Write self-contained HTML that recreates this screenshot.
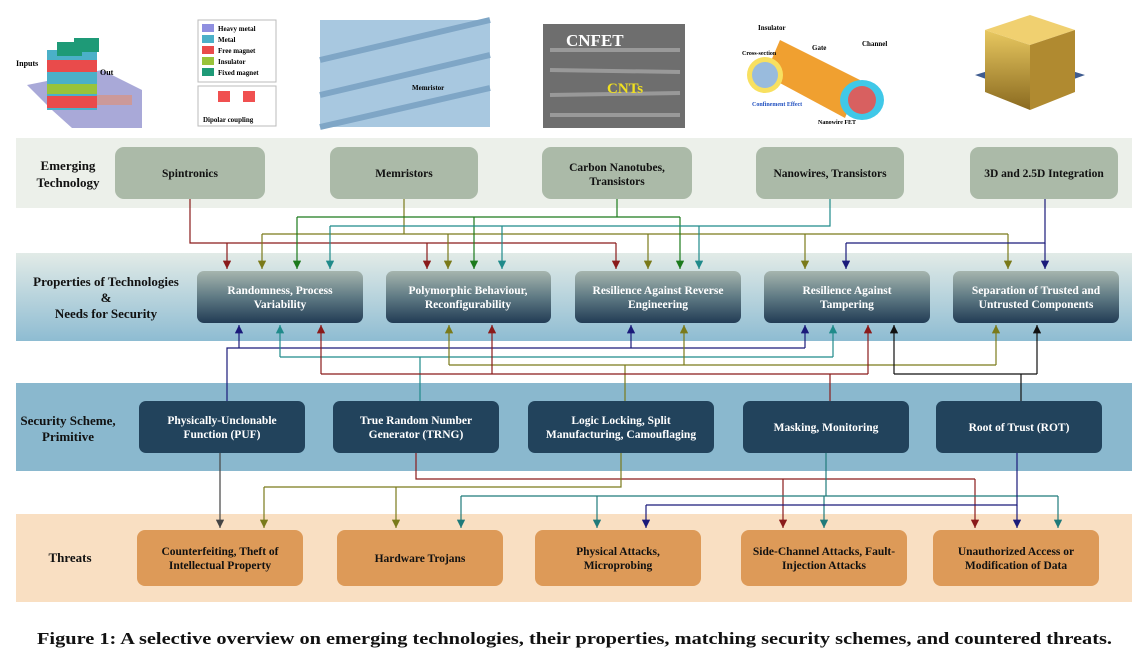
<!DOCTYPE html>
<html><head><meta charset="utf-8"><style>
html,body{margin:0;padding:0;background:#fff;}
svg{display:block;}
text{font-family:"Liberation Serif",serif;font-weight:bold;}
</style></head><body>
<svg width="1148" height="662" viewBox="0 0 1148 662" xmlns="http://www.w3.org/2000/svg">
<defs>
<linearGradient id="b2" x1="0" y1="0" x2="0" y2="1"><stop offset="0" stop-color="#e2ebe7"/><stop offset="1" stop-color="#8ebcd2"/></linearGradient>
<linearGradient id="bx2" x1="0" y1="0" x2="0" y2="1"><stop offset="0" stop-color="#a6b5ae"/><stop offset="0.5" stop-color="#5f7a84"/><stop offset="1" stop-color="#223c55"/></linearGradient>
<linearGradient id="cube" x1="0" y1="0" x2="0" y2="1"><stop offset="0" stop-color="#e8c860"/><stop offset="1" stop-color="#8a6a20"/></linearGradient>
<marker id="a" viewBox="0 0 10 10" refX="10" refY="5" markerWidth="7" markerHeight="7" orient="auto"><path d="M0,0 L10,5 L0,10 z" fill="context-stroke"/></marker>
</defs>

<!-- top images -->
<g transform="translate(12,0)">
<polygon points="15,85 40,110 60,128 130,128 130,90 90,70" fill="#a9a9d8"/>
<rect x="40" y="95" width="80" height="10" fill="#c99"/>
<polygon points="35,50 85,50 85,110 35,110" fill="#4bb0c8"/>
<rect x="35" y="60" width="50" height="12" fill="#e94b4b"/>
<rect x="35" y="84" width="50" height="10" fill="#99c33a"/>
<rect x="35" y="96" width="50" height="12" fill="#e94b4b"/>
<rect x="45" y="42" width="25" height="14" fill="#1e9a77"/>
<rect x="62" y="38" width="25" height="14" fill="#1e9a77"/>
<text x="4" y="66" font-size="8" font-weight="normal">Inputs</text>
<text x="88" y="75" font-size="8" font-weight="normal">Out</text>
</g>
<g>
<rect x="198" y="20" width="78" height="62" fill="#fff" stroke="#bbb"/>
<rect x="202" y="24" width="12" height="8" fill="#8f8fe0"/><text x="218" y="31" font-size="7" font-weight="normal">Heavy metal</text>
<rect x="202" y="35" width="12" height="8" fill="#4bb0c8"/><text x="218" y="42" font-size="7" font-weight="normal">Metal</text>
<rect x="202" y="46" width="12" height="8" fill="#e94b4b"/><text x="218" y="53" font-size="7" font-weight="normal">Free magnet</text>
<rect x="202" y="57" width="12" height="8" fill="#99c33a"/><text x="218" y="64" font-size="7" font-weight="normal">Insulator</text>
<rect x="202" y="68" width="12" height="8" fill="#1e9a77"/><text x="218" y="75" font-size="7" font-weight="normal">Fixed magnet</text>
<rect x="198" y="86" width="78" height="40" fill="#fff" stroke="#bbb"/>
<rect x="218" y="91" width="12" height="11" fill="#f05050"/><rect x="243" y="91" width="12" height="11" fill="#f05050"/>
<text x="203" y="122" font-size="7" font-weight="normal">Dipolar coupling</text>
<rect x="320" y="20" width="170" height="107" fill="#a8c8e0"/>
<g stroke="#7fa6c6" stroke-width="6"><line x1="320" y1="60" x2="490" y2="20"/><line x1="320" y1="95" x2="490" y2="55"/><line x1="320" y1="127" x2="490" y2="88"/></g>
<text x="412" y="90" font-size="7" font-weight="normal">Memristor</text>
<rect x="543" y="24" width="142" height="104" fill="#6e6e6e"/>
<g stroke="#999" stroke-width="4"><line x1="550" y1="50" x2="680" y2="50"/><line x1="550" y1="70" x2="680" y2="72"/><line x1="550" y1="95" x2="680" y2="93"/><line x1="550" y1="115" x2="680" y2="115"/></g>
<text x="566" y="46" font-size="17" fill="#fff" font-family="Liberation Sans">CNFET</text>
<text x="607" y="93" font-size="15" fill="#f0e020" font-family="Liberation Sans">CNTs</text>
<polygon points="780,40 860,80 845,118 765,75" fill="#f0a030"/>
<ellipse cx="862" cy="100" rx="22" ry="20" fill="#40c8e8"/>
<ellipse cx="862" cy="100" rx="14" ry="14" fill="#d86060"/>
<circle cx="765" cy="75" r="18" fill="#f8e060"/><circle cx="765" cy="75" r="13" fill="#9bd"/>
<text x="758" y="30" font-size="7" font-family="Liberation Sans">Insulator</text>
<text x="812" y="50" font-size="7" font-family="Liberation Sans">Gate</text>
<text x="862" y="46" font-size="7" font-family="Liberation Sans">Channel</text>
<text x="742" y="55" font-size="6" font-family="Liberation Sans">Cross-section</text>
<text x="752" y="106" font-size="6" fill="#2050c0" font-family="Liberation Sans">Confinement Effect</text>
<text x="818" y="124" font-size="6" font-family="Liberation Sans">Nanowire FET</text>
<polygon points="975,75 1030,95 1085,75 1030,58" fill="#3f5c90"/>
<polygon points="985,30 1030,45 1075,30 1030,15" fill="#f0d070"/>
<polygon points="985,30 1030,45 1030,110 985,92" fill="url(#cube)"/>
<polygon points="1030,45 1075,30 1075,92 1030,110" fill="#b08a30"/>
</g>

<!-- bands -->
<rect x="16" y="138" width="1116" height="70" fill="#ecf0ea"/>
<rect x="16" y="253" width="1116" height="88" fill="url(#b2)"/>
<rect x="16" y="383" width="1116" height="88" fill="#8ab8ce"/>
<rect x="16" y="514" width="1116" height="88" fill="#f9dfc2"/>

<g font-size="13" text-anchor="middle" fill="#111">
<text x="68" y="170">Emerging</text><text x="68" y="187">Technology</text>
<text x="106" y="286">Properties of Technologies</text><text x="106" y="302">&amp;</text><text x="106" y="318">Needs for Security</text>
<text x="68" y="425">Security Scheme,</text><text x="68" y="441">Primitive</text>
<text x="70" y="562">Threats</text>
</g>

<!-- row1 boxes -->
<g fill="#abbaa8">
<rect x="115" y="147" width="150" height="52" rx="9"/>
<rect x="330" y="147" width="148" height="52" rx="9"/>
<rect x="542" y="147" width="150" height="52" rx="9"/>
<rect x="756" y="147" width="148" height="52" rx="9"/>
<rect x="970" y="147" width="148" height="52" rx="9"/>
</g>
<g font-size="11.5" text-anchor="middle" fill="#111">
<text x="190" y="177">Spintronics</text>
<text x="404" y="177">Memristors</text>
<text x="617" y="171">Carbon Nanotubes,</text><text x="617" y="185">Transistors</text>
<text x="830" y="177">Nanowires, Transistors</text>
<text x="1044" y="177">3D and 2.5D Integration</text>
</g>

<!-- row2 boxes -->
<g fill="url(#bx2)">
<rect x="197" y="271" width="166" height="52" rx="7"/>
<rect x="386" y="271" width="165" height="52" rx="7"/>
<rect x="575" y="271" width="166" height="52" rx="7"/>
<rect x="764" y="271" width="166" height="52" rx="7"/>
<rect x="953" y="271" width="166" height="52" rx="7"/>
</g>
<g font-size="11.5" text-anchor="middle" fill="#fff">
<text x="280" y="294">Randomness, Process</text><text x="280" y="308">Variability</text>
<text x="468" y="294">Polymorphic Behaviour,</text><text x="468" y="308">Reconfigurability</text>
<text x="658" y="294">Resilience Against Reverse</text><text x="658" y="308">Engineering</text>
<text x="847" y="294">Resilience Against</text><text x="847" y="308">Tampering</text>
<text x="1036" y="294">Separation of Trusted and</text><text x="1036" y="308">Untrusted Components</text>
</g>

<!-- row3 boxes -->
<g fill="#22435c">
<rect x="139" y="401" width="166" height="52" rx="7"/>
<rect x="333" y="401" width="166" height="52" rx="7"/>
<rect x="528" y="401" width="186" height="52" rx="7"/>
<rect x="743" y="401" width="166" height="52" rx="7"/>
<rect x="936" y="401" width="166" height="52" rx="7"/>
</g>
<g font-size="11.5" text-anchor="middle" fill="#fff">
<text x="222" y="424">Physically-Unclonable</text><text x="222" y="438">Function (PUF)</text>
<text x="416" y="424">True Random Number</text><text x="416" y="438">Generator (TRNG)</text>
<text x="621" y="424">Logic Locking, Split</text><text x="621" y="438">Manufacturing, Camouflaging</text>
<text x="826" y="431">Masking, Monitoring</text>
<text x="1019" y="431">Root of Trust (ROT)</text>
</g>

<!-- row4 boxes -->
<g fill="#dd9a58">
<rect x="137" y="530" width="166" height="56" rx="8"/>
<rect x="337" y="530" width="166" height="56" rx="8"/>
<rect x="535" y="530" width="166" height="56" rx="8"/>
<rect x="741" y="530" width="166" height="56" rx="8"/>
<rect x="933" y="530" width="166" height="56" rx="8"/>
</g>
<g font-size="11.5" text-anchor="middle" fill="#111">
<text x="220" y="555">Counterfeiting, Theft of</text><text x="220" y="569">Intellectual Property</text>
<text x="420" y="562">Hardware Trojans</text>
<text x="618" y="555">Physical Attacks,</text><text x="618" y="569">Microprobing</text>
<text x="824" y="555">Side-Channel Attacks, Fault-</text><text x="824" y="569">Injection Attacks</text>
<text x="1016" y="555">Unauthorized Access or</text><text x="1016" y="569">Modification of Data</text>
</g>

<!-- connectors row1 -> row2 -->
<g fill="none" stroke-width="1.2">
<g stroke="#8a1a1a"><polyline points="190,199 190,243 616,243"/><line x1="227" y1="243" x2="227" y2="269" marker-end="url(#a)"/><line x1="427" y1="243" x2="427" y2="269" marker-end="url(#a)"/><line x1="616" y1="243" x2="616" y2="269" marker-end="url(#a)"/></g>
<g stroke="#7a7a1a"><polyline points="404,199 404,234"/><line x1="262" y1="234" x2="1008" y2="234"/><line x1="262" y1="234" x2="262" y2="269" marker-end="url(#a)"/><line x1="448" y1="234" x2="448" y2="269" marker-end="url(#a)"/><line x1="648" y1="234" x2="648" y2="269" marker-end="url(#a)"/><line x1="805" y1="234" x2="805" y2="269" marker-end="url(#a)"/><line x1="1008" y1="234" x2="1008" y2="269" marker-end="url(#a)"/></g>
<g stroke="#1c7a1c"><polyline points="617,199 617,217"/><line x1="297" y1="217" x2="680" y2="217"/><line x1="297" y1="217" x2="297" y2="269" marker-end="url(#a)"/><line x1="474" y1="217" x2="474" y2="269" marker-end="url(#a)"/><line x1="680" y1="217" x2="680" y2="269" marker-end="url(#a)"/></g>
<g stroke="#1f8a8a"><polyline points="830,199 830,226 330,226"/><line x1="330" y1="226" x2="330" y2="269" marker-end="url(#a)"/><line x1="502" y1="226" x2="502" y2="269" marker-end="url(#a)"/><line x1="699" y1="226" x2="699" y2="269" marker-end="url(#a)"/></g>
<g stroke="#1a1a7a"><polyline points="1045,199 1045,243 846,243"/><line x1="846" y1="243" x2="846" y2="269" marker-end="url(#a)"/><line x1="1045" y1="243" x2="1045" y2="269" marker-end="url(#a)"/></g>
</g>

<!-- connectors row3 -> row2 -->
<g fill="none" stroke-width="1.2">
<g stroke="#1a1a7a"><polyline points="227,401 227,348 805,348"/><line x1="239" y1="348" x2="239" y2="325" marker-end="url(#a)"/><line x1="631" y1="348" x2="631" y2="325" marker-end="url(#a)"/><line x1="805" y1="348" x2="805" y2="325" marker-end="url(#a)"/></g>
<g stroke="#1f8a8a"><polyline points="420,401 420,357"/><line x1="280" y1="357" x2="833" y2="357"/><line x1="280" y1="357" x2="280" y2="325" marker-end="url(#a)"/><line x1="833" y1="357" x2="833" y2="325" marker-end="url(#a)"/></g>
<g stroke="#7a7a1a"><polyline points="625,401 625,365"/><line x1="449" y1="365" x2="996" y2="365"/><line x1="449" y1="365" x2="449" y2="325" marker-end="url(#a)"/><line x1="684" y1="365" x2="684" y2="325" marker-end="url(#a)"/><line x1="996" y1="365" x2="996" y2="325" marker-end="url(#a)"/></g>
<g stroke="#8a1a1a"><polyline points="830,401 830,374"/><line x1="321" y1="374" x2="868" y2="374"/><line x1="321" y1="374" x2="321" y2="325" marker-end="url(#a)"/><line x1="492" y1="374" x2="492" y2="325" marker-end="url(#a)"/><line x1="868" y1="374" x2="868" y2="325" marker-end="url(#a)"/></g>
<g stroke="#111"><polyline points="1021,401 1021,374"/><line x1="894" y1="374" x2="1037" y2="374"/><line x1="894" y1="374" x2="894" y2="325" marker-end="url(#a)"/><line x1="1037" y1="374" x2="1037" y2="325" marker-end="url(#a)"/></g>
</g>

<!-- connectors row3 -> row4 -->
<g fill="none" stroke-width="1.2">
<line x1="220" y1="453" x2="220" y2="528" stroke="#444" marker-end="url(#a)"/>
<g stroke="#8a1a1a"><polyline points="416,453 416,479 975,479"/><line x1="783" y1="479" x2="783" y2="528" marker-end="url(#a)"/><line x1="975" y1="479" x2="975" y2="528" marker-end="url(#a)"/></g>
<g stroke="#7a7a1a"><polyline points="621,453 621,487 264,487"/><line x1="264" y1="487" x2="264" y2="528" marker-end="url(#a)"/><line x1="396" y1="487" x2="396" y2="528" marker-end="url(#a)"/></g>
<g stroke="#1f7a7a"><polyline points="826,453 826,496"/><line x1="461" y1="496" x2="1058" y2="496"/><line x1="461" y1="496" x2="461" y2="528" marker-end="url(#a)"/><line x1="597" y1="496" x2="597" y2="528" marker-end="url(#a)"/><line x1="824" y1="496" x2="824" y2="528" marker-end="url(#a)"/><line x1="1058" y1="496" x2="1058" y2="528" marker-end="url(#a)"/></g>
<g stroke="#1a1a7a"><polyline points="1017,453 1017,505 646,505"/><line x1="646" y1="505" x2="646" y2="528" marker-end="url(#a)"/><line x1="1017" y1="505" x2="1017" y2="528" marker-end="url(#a)"/></g>
</g>

<text x="37" y="644" font-size="16.5" textLength="1075" lengthAdjust="spacingAndGlyphs" fill="#111">Figure 1: A selective overview on emerging technologies, their properties, matching security schemes, and countered threats.</text>
</svg>
</body></html>
